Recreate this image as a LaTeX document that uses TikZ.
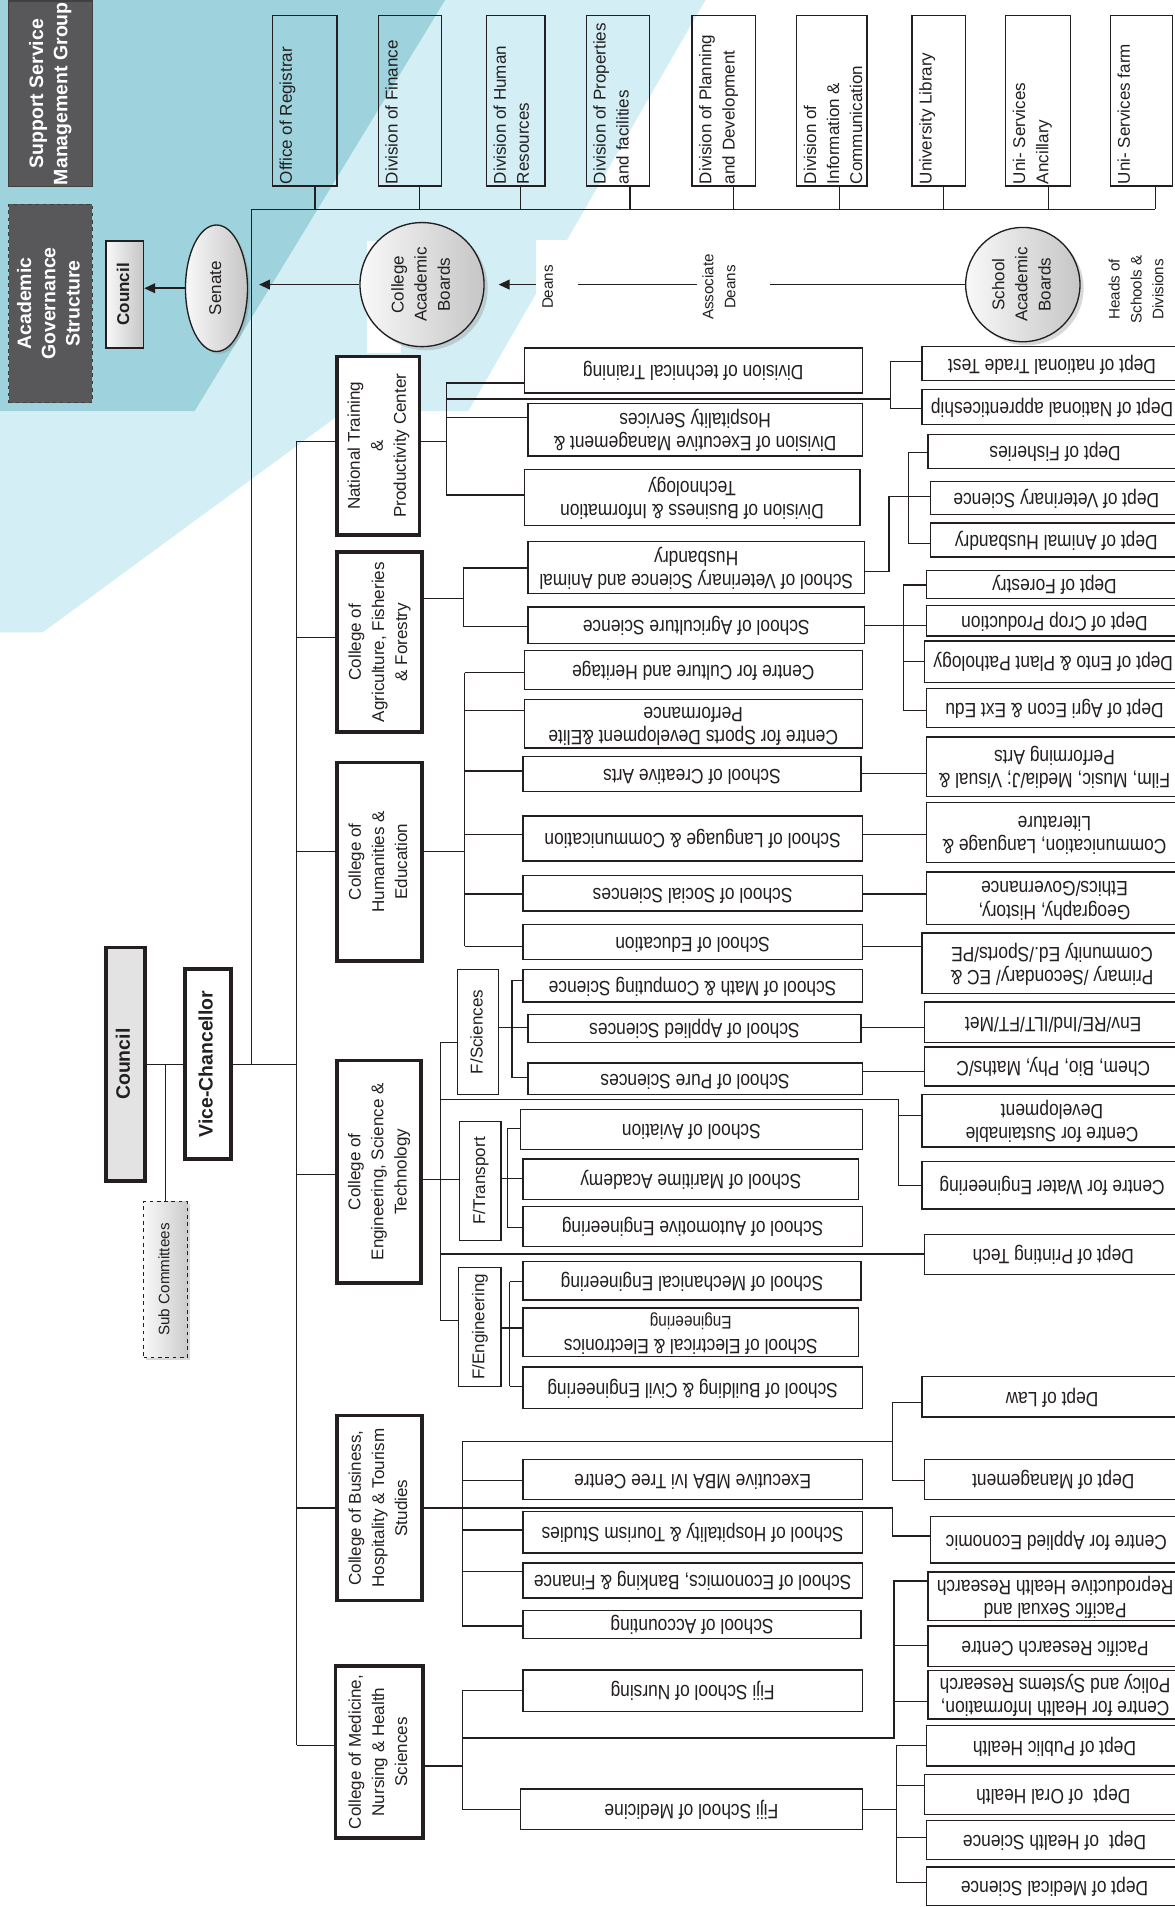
\documentclass[tikz,border=0pt]{standalone}
\usepackage{graphicx}
\usepackage{fontspec}
\setmainfont{Liberation Sans}
\newfontfamily\narfont[FakeStretch=0.84]{Liberation Sans}
\usetikzlibrary{arrows.meta,shadows,shapes.geometric}
\definecolor{ink}{HTML}{231F20}
\definecolor{hdrgray}{HTML}{58585A}
\definecolor{bgdark}{HTML}{9ED3DD}
\definecolor{bglight}{HTML}{D3EEF4}
\newcommand\UDt[1]{\rotatebox{180}{\begin{tabular}{@{}c@{}}#1\end{tabular}}}
\newcommand\RTc[1]{\rotatebox{90}{\begin{tabular}{@{}c@{}}#1\end{tabular}}}
\newcommand\RTl[1]{\rotatebox{90}{\begin{tabular}{@{}l@{}}#1\end{tabular}}}
\newcommand\BX[6]{\node[#1, minimum width={(#4)-(#2)}, minimum height={(#5)-(#3)}] (#6) at ({((#2)+(#4))/2},{((#3)+(#5))/2})}
\newcommand\TB[5]{\BX{sbox}{#2}{13}{#3}{153}{#1} {};
  \node[stext, anchor=south west] (#1t) at (#1.south west) {\RTl{#4}};
  \draw[ln] (#1.south -| #5,0) -- (#5,172);}
\begin{document}
\begin{tikzpicture}[x=1pt,y=-1pt,
  ln/.style={draw=ink, line width=1pt},
  arr/.style={draw=ink, line width=1.4pt, -{Triangle[length=9pt,width=8pt]}},
  sbox/.style={draw=ink, line width=1.1pt, inner sep=0pt},
  stext/.style={inner xsep=3pt, inner ysep=2pt, text=ink, font=\fontsize{14}{19}\selectfont},
  mbox/.style={draw=ink, line width=1.1pt, fill=white, inner sep=1pt, text=ink, font=\narfont\fontsize{17}{19}\selectfont},
  cbox/.style={draw=ink, line width=3pt, fill=white, inner sep=1pt, text=ink, font=\fontsize{14}{19}\selectfont},
  facbox/.style={draw=ink, line width=1.1pt, fill=white, inner sep=1pt, text=ink, font=\fontsize{14}{19}\selectfont},
  hdr/.style={draw=black!75, line width=1pt, fill=hdrgray, text=white, inner sep=1pt, font=\bfseries\fontsize{16}{20}\selectfont},
  cnsmall/.style={draw=ink, line width=1.2pt, left color=gray!5, right color=gray!45, inner sep=1pt, text=ink, font=\bfseries\fontsize{14}{18}\selectfont},
  senate/.style={ellipse, draw=ink, line width=1.1pt, left color=gray!5, right color=gray!45, inner sep=0pt, minimum width=51, minimum height=104, text=ink, font=\fontsize{14}{19}\selectfont, drop shadow={shadow xshift=2pt, shadow yshift=-2pt, opacity=0.3}},
  board/.style={circle, draw=ink, line width=1.1pt, left color=gray!5, right color=gray!45, inner sep=0pt, text=ink, font=\fontsize{14}{19}\selectfont, drop shadow={shadow xshift=3pt, shadow yshift=-3pt, opacity=0.3}},
  smalltxt/.style={inner sep=1pt, text=ink, font=\fontsize{12.5}{18}\selectfont},
  bigbox/.style={draw=ink, line width=3pt, inner sep=1pt, text=ink, font=\bfseries\fontsize{16}{19}\selectfont},
  subbox/.style={draw=ink, dashed, line width=1pt, left color=gray!5, right color=gray!40, inner sep=1pt, text=ink, font=\fontsize{12.5}{16}\selectfont, drop shadow={shadow xshift=2pt, shadow yshift=-2pt, opacity=0.3}}
]
\useasboundingbox (0,0) rectangle (966,1568);
\clip (0,0) rectangle (966,1568);
% background
\fill[white] (0,0) rectangle (966,1568);
\fill[bglight] (0,0) -- (580,0) -- (385,338) -- (283,338) -- (35,520) -- (0,520) -- cycle;
\fill[bgdark] (0,0) -- (366,0) -- (160,338) -- (0,338) -- cycle;
\fill[white] (441,197) rectangle (490,250);
\fill[white] (302,198) rectangle (330,290);

% header
\BX{hdr}{7}{1}{76}{153}{ssmg} {\RTc{Support Service\\Management Group}};
\BX{hdr,dashed}{7}{168}{76}{331}{ags} {\RTc{Academic\\Governance\\Structure}};
\BX{cnsmall}{87}{198}{118}{286}{csm} {\RTc{Council}};
\node[senate] (sen) at (178,237) {\RTc{Senate}};
\node[board, minimum size=102] (cab) at (347,234) {\RTc{College\\Academic\\Boards}};
\node[board, minimum size=94] (sab) at (841,234) {\RTc{School\\Academic\\Boards}};
\node[smalltxt] (dea) at (451,236) {\RTc{Deans}};
\node[smalltxt] (ade) at (592,236) {\RTc{Associate\\Deans}};
\node[smalltxt] (hsd) at (935,238) {\RTc{Heads of\\Schools \&\\Divisions}};
\draw[arr] (sen.west) -- (sen.west -| csm.east);
\coordinate (sp1top) at (207,172);
\coordinate (cabtip) at (213,234);
\draw[arr] (cab.west) -- (cabtip);
\coordinate (deatail) at (441,234);
\coordinate (deatip) at (410,234);
\draw[arr] (deatail) -- (deatip);
\coordinate (adl) at (475,234);
\coordinate (adr) at (573,234);
\coordinate (adr2) at (633,234);
\draw[ln, line width=1.4pt] (adl) -- (adr);
\draw[ln, line width=1.4pt] (adr2) -- (sab.west);

% support service boxes
\TB{r1}{224}{277}{Office of Registrar}{259}
\TB{r2}{311}{363}{Division of Finance}{345}
\TB{r3}{400}{448}{Division of Human\\Resources}{428}
\TB{r4}{482}{534}{Division of Properties\\and facilities}{518}
\TB{r5}{569}{621}{Division of Planning\\and Development}{603}
\TB{r6}{655}{713}{Division of\\Information \&\\Communication}{690}
\TB{r7}{750}{794}{University Library}{776}
\TB{r8}{827}{880}{Uni- Services\\Ancillary}{862}
\TB{r9}{913}{964}{Uni- Services farm}{950}
\draw[ln] (sp1top) -- (950,172);
\draw[ln] (sp1top) -- (207,875);

% council / VC
\BX{bigbox, fill=gray!22}{87}{779}{119}{971}{cbig} {\RTc{Council}};
\BX{bigbox, fill=white}{152}{797}{190}{953}{vc} {\RTc{Vice-Chancellor}};
\BX{subbox}{118}{988}{154}{1116}{sub} {\RTc{Sub Committees}};
\draw[ln] (cbig.east) -- (vc.west);
\draw[ln] (sub.north) -- (sub.north |- cbig.east);
\draw[ln] (vc.east) -- (244,875);
\draw[ln] (244,363) -- (244,1435);

% ---- National Training
\BX{cbox}{277}{293}{345}{440}{c1} {\RTc{National Training\\\&\\Productivity Center}};
\BX{mbox}{431}{286}{709}{323}{m11} {\UDt{Division of technical Training}};
\BX{mbox}{434}{332}{709}{375}{m12} {\UDt{Division of Executive Management \&\\Hospitality Services}};
\BX{mbox}{431}{386}{707}{432}{m13} {\UDt{Division of Business \& Information\\Technology}};
\BX{mbox}{758}{285}{972}{313}{d11} {\UDt{Dept of national Trade Test}};
\BX{mbox}{758}{320}{972}{349}{d12} {\UDt{Dept of National apprenticeship}};
\draw[ln] (244,363) -- (c1.west |- 0,363);
\draw[ln] (c1.east |- 0,363) -- (367,363);
\draw[ln] (367,315) -- (367,407);
\draw[ln] (367,315) -- (m11.west |- 0,315);
\draw[ln] (367,343) -- (m12.west |- 0,343);
\draw[ln] (367,407) -- (m13.west |- 0,407);
\draw[ln] (367,328) -- (732,328);
\draw[ln] (d11.west |- 0,297) -- (732,297) -- (732,336) -- (d12.west |- 0,336);

% ---- Agriculture
\BX{cbox}{277}{454}{347}{602}{c2} {\RTc{College of\\Agriculture, Fisheries\\\& Forestry}};
\BX{mbox}{434}{445}{711}{488}{m21} {\UDt{School of Veterinary Science and Animal\\Husbandry}};
\BX{mbox}{434}{499}{711}{529}{m22} {\UDt{School of Agriculture Science}};
\draw[ln] (244,524) -- (c2.west |- 0,524);
\draw[ln] (c2.east |- 0,492) -- (381,492);
\draw[ln] (381,467) -- (381,515);
\draw[ln] (381,467) -- (m21.west |- 0,467);
\draw[ln] (381,515) -- (m22.west |- 0,515);
\BX{mbox}{763}{357}{972}{385}{d21} {\UDt{Dept of Fisheries}};
\BX{mbox}{765}{396}{972}{423}{d22} {\UDt{Dept of Veterinary Science}};
\BX{mbox}{765}{430}{972}{458}{d23} {\UDt{Dept of Animal Husbandry}};
\draw[ln] (m21.east |- 0,470) -- (731,470) -- (731,408) -- (d22.west |- 0,408);
\draw[ln] (d21.west |- 0,372) -- (747,372) -- (747,447) -- (d23.west |- 0,447);
\BX{mbox}{762}{469}{972}{492}{d24} {\UDt{Dept of Forestry}};
\BX{mbox}{762}{498}{972}{523}{d25} {\UDt{Dept of Crop Production}};
\BX{mbox}{760}{527}{972}{561}{d26} {\UDt{Dept of Ento \& Plant Pathology}};
\BX{mbox}{762}{566}{972}{598}{d27} {\UDt{Dept of Agri Econ \& Ext Edu}};
\draw[ln] (m22.east |- 0,514) -- (d25.west |- 0,514);
\draw[ln] (d24.west |- 0,481) -- (743,481) -- (743,584) -- (d27.west |- 0,584);
\draw[ln] (743,544) -- (d26.west |- 0,544);

% ---- Humanities
\BX{cbox}{277}{627}{347}{790}{c3} {\RTc{College of\\Humanities \&\\Education}};
\BX{mbox}{431}{535}{709}{567}{m31} {\UDt{Centre for Culture and Heritage}};
\BX{mbox}{431}{575}{709}{615}{m32} {\UDt{Centre for Sports Development \&Elite\\Performance}};
\BX{mbox}{430}{622}{708}{651}{m33} {\UDt{School of Creative Arts}};
\BX{mbox}{430}{671}{709}{708}{m34} {\UDt{School of Language \& Communication}};
\BX{mbox}{430}{720}{709}{749}{m35} {\UDt{School of Social Sciences}};
\BX{mbox}{430}{760}{709}{789}{m36} {\UDt{School of Education}};
\draw[ln] (244,700) -- (c3.west |- 0,700);
\draw[ln] (c3.east |- 0,700) -- (382,700);
\draw[ln] (382,553) -- (382,778);
\draw[ln] (382,553) -- (m31.west |- 0,553);
\draw[ln] (382,584) -- (m32.west |- 0,584);
\draw[ln] (382,634) -- (m33.west |- 0,634);
\draw[ln] (382,686) -- (m34.west |- 0,686);
\draw[ln] (382,735) -- (m35.west |- 0,735);
\draw[ln] (382,778) -- (m36.west |- 0,778);
\BX{mbox}{762}{606}{972}{655}{d31} {\UDt{Film, Music, Media/J; Visual \&\\Performing Arts}};
\BX{mbox}{762}{660}{972}{709}{d32} {\UDt{Communication, Language \&\\Literature}};
\BX{mbox}{762}{717}{972}{760}{d33} {\UDt{Geography, History,\\Ethics/Governance}};
\BX{mbox}{758}{767}{972}{817}{d34} {\UDt{Primary /Secondary/ EC \&\\Community Ed./Sports/PE}};
\draw[ln] (m33.east |- 0,636) -- (d31.west |- 0,636);
\draw[ln] (m34.east |- 0,686) -- (d32.west |- 0,686);
\draw[ln] (m35.east |- 0,735) -- (d33.west |- 0,735);
\draw[ln] (m36.east |- 0,778) -- (d34.west |- 0,778);

% ---- Engineering, Science & Technology
\BX{cbox}{277}{872}{346}{1055}{c4} {\RTc{College of\\Engineering, Science \&\\Technology}};
\BX{facbox}{376}{797}{410}{900}{f1} {\RTc{F/Sciences}};
\BX{facbox}{378}{922}{412}{1020}{f2} {\RTc{F/Transport}};
\BX{facbox}{377}{1042}{412}{1140}{f3} {\RTc{F/Engineering}};
\draw[ln] (244,966) -- (c4.west |- 0,966);
\draw[ln] (362,857) -- (362,1086);
\draw[ln] (c4.east |- 0,970) -- (f2.west |- 0,970);
\draw[ln] (362,857) -- (f1.west |- 0,857);
\draw[ln] (362,1086) -- (f3.west |- 0,1086);
\BX{mbox}{430}{797}{709}{824}{m41} {\UDt{School of Math \& Computing Science}};
\BX{mbox}{434}{834}{708}{857}{m42} {\UDt{School of Applied Sciences}};
\BX{mbox}{434}{874}{709}{900}{m43} {\UDt{School of Pure Sciences}};
\draw[ln] (f1.east |- 0,845) -- (421,845);
\draw[ln] (421,806) -- (421,886);
\draw[ln] (421,806) -- (m41.west |- 0,806);
\draw[ln] (421,845) -- (m42.west |- 0,845);
\draw[ln] (421,886) -- (m43.west |- 0,886);
\BX{mbox}{760}{824}{972}{857}{d40} {\UDt{Env/RE/Ind/ILT/FT/Met}};
\BX{mbox}{760}{861}{972}{893}{d41} {\UDt{Chem, Bio, Phy, Maths/C}};
\BX{mbox}{758}{900}{972}{943}{d42} {\UDt{Centre for Sustainable\\Development}};
\BX{mbox}{758}{955}{972}{994}{d43} {\UDt{Centre for Water Engineering}};
\BX{mbox}{760}{1015}{972}{1048}{d44} {\UDt{Dept of Printing Tech}};
\draw[ln] (m42.east |- 0,845) -- (d40.west |- 0,845);
\draw[ln] (m43.east |- 0,881) -- (d41.west |- 0,881);
\draw[ln] (362,904) -- (739,904) -- (739,975) -- (d43.west |- 0,975);
\draw[ln] (739,917) -- (d42.west |- 0,917);
\draw[ln] (362,1031) -- (d44.west |- 0,1031);
\BX{mbox}{428}{912}{709}{945}{m44} {\UDt{School of Aviation}};
\BX{mbox}{430}{953}{706}{986}{m45} {\UDt{School of Maritime Academy}};
\BX{mbox}{430}{992}{709}{1025}{m46} {\UDt{School of Automotive Engineering}};
\draw[ln] (f2.east |- 0,969) -- (417,969);
\draw[ln] (417,928) -- (417,1009);
\draw[ln] (417,928) -- (m44.west |- 0,928);
\draw[ln] (417,969) -- (m45.west |- 0,969);
\draw[ln] (417,1009) -- (m46.west |- 0,1009);
\BX{mbox}{430}{1037}{708}{1069}{m47} {\UDt{School of Mechanical Engineering}};
\BX{mbox}{430}{1076}{706}{1115}{m48} {\UDt{School of Electrical \& Electronics\\{\fontsize{15}{15}\selectfont Engineering}}};
\BX{mbox}{430}{1124}{709}{1158}{m49} {\UDt{School of Building \& Civil Engineering}};
\draw[ln] (f3.east |- 0,1092) -- (419,1092);
\draw[ln] (419,1054) -- (419,1140);
\draw[ln] (419,1054) -- (m47.west |- 0,1054);
\draw[ln] (419,1092) -- (m48.west |- 0,1092);
\draw[ln] (419,1140) -- (m49.west |- 0,1140);

% ---- Business
\BX{cbox}{277}{1164}{347}{1316}{c5} {\RTc{College of Business,\\Hospitality \& Tourism\\Studies}};
\BX{mbox}{430}{1200}{709}{1233}{m51} {\UDt{Executive MBA Ivi Tree Centre}};
\BX{mbox}{430}{1243}{709}{1277}{m52} {\UDt{School of Hospitality \& Tourism Studies}};
\BX{mbox}{430}{1285}{709}{1314}{m53} {\UDt{School of Economics, Banking \& Finance}};
\BX{mbox}{430}{1324}{708}{1347}{m54} {\UDt{School of Accounting}};
\BX{mbox}{758}{1132}{972}{1165}{d51} {\UDt{Dept of Law}};
\BX{mbox}{760}{1200}{972}{1233}{d52} {\UDt{Dept of Management}};
\BX{mbox}{765}{1247}{972}{1285}{d53} {\UDt{Centre for Applied Economic}};
\draw[ln] (244,1240) -- (c5.west |- 0,1240);
\draw[ln] (380,1185) -- (380,1337);
\draw[ln] (c5.east |- 0,1240) -- (734,1240) -- (734,1263) -- (d53.west |- 0,1263);
\draw[ln] (380,1185) -- (734,1185);
\draw[ln] (d51.west |- 0,1153) -- (734,1153) -- (734,1217) -- (d52.west |- 0,1217);
\draw[ln] (380,1217) -- (m51.west |- 0,1217);
\draw[ln] (380,1258) -- (m52.west |- 0,1258);
\draw[ln] (380,1292) -- (m53.west |- 0,1292);
\draw[ln] (380,1337) -- (m54.west |- 0,1337);

% ---- Medicine
\BX{cbox}{276}{1370}{348}{1511}{c6} {\RTc{College of Medicine,\\Nursing \& Health\\Sciences}};
\BX{mbox}{430}{1373}{709}{1407}{m61} {\UDt{Fiji School of Nursing}};
\BX{mbox}{428}{1471}{709}{1504}{m62} {\UDt{Fiji School of Medicine}};
\draw[ln] (244,1435) -- (c6.west |- 0,1435);
\draw[ln] (c6.east |- 0,1452) -- (380,1452);
\draw[ln] (380,1390) -- (380,1488);
\draw[ln] (380,1390) -- (m61.west |- 0,1390);
\draw[ln] (380,1488) -- (m62.west |- 0,1488);
\BX{mbox}{763}{1293}{972}{1332}{d61} {\UDt{Pacific Sexual and\\Reproductive Health Research}};
\BX{mbox}{763}{1337}{972}{1370}{d62} {\UDt{Pacific Research Centre}};
\BX{mbox}{763}{1374}{972}{1413}{d63} {\UDt{Centre for Health Information,\\Policy and Systems Research}};
\draw[ln] (380,1429) -- (735,1429) -- (735,1300) -- (d61.west |- 0,1300);
\draw[ln] (735,1353) -- (d62.west |- 0,1353);
\draw[ln] (735,1399) -- (d63.west |- 0,1399);
\BX{mbox}{762}{1419}{972}{1452}{d64} {\UDt{Dept of Public Health}};
\BX{mbox}{760}{1459}{972}{1492}{d65} {\UDt{Dept\enspace of Oral Health}};
\BX{mbox}{762}{1497}{972}{1529}{d66} {\UDt{Dept\enspace of Health Science}};
\BX{mbox}{762}{1535}{972}{1567}{d67} {\UDt{Dept of Medical Science}};
\draw[ln] (m62.east |- 0,1488) -- (737,1488);
\draw[ln] (d64.west |- 0,1435) -- (737,1435) -- (737,1548) -- (d67.west |- 0,1548);
\draw[ln] (737,1468) -- (d65.west |- 0,1468);
\draw[ln] (737,1511) -- (d66.west |- 0,1511);
\end{tikzpicture}
\end{document}
